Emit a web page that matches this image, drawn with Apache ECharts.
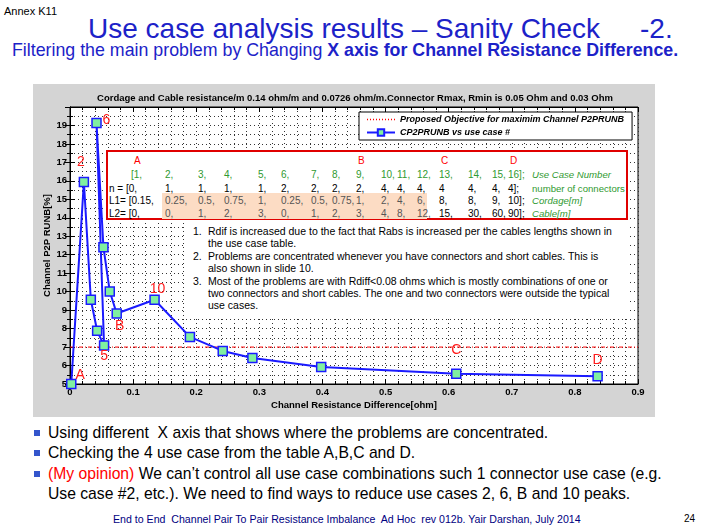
<!DOCTYPE html>
<html>
<head>
<meta charset="utf-8">
<script src="https://cdn.jsdelivr.net/npm/echarts@6/dist/echarts.min.js"></script>
<style>
  body { margin: 0; width: 710px; height: 531px; background: #fff; position: relative; overflow: hidden;
         font-family: "Liberation Sans", Arial, sans-serif; }
  .t { position: absolute; white-space: nowrap; }
  #panel { position: absolute; left: 33px; top: 84px; width: 622px; height: 333px; background: #d4d4d4; z-index: 0; }
  #chart { position: absolute; left: 0; top: 0; width: 710px; height: 531px; z-index: 1; }
  #table { position: absolute; left: 106px; top: 150px; width: 522px; height: 70px; box-sizing: border-box;
           border: 2px solid #e00000; background: #fff; z-index: 2; }
  #peach { position: absolute; left: 54px; top: 41px; width: 265px; height: 26px; background: #fcdcc4; }
  #notes { position: absolute; left: 186px; top: 223px; width: 442px; height: 96px; background: #fff; z-index: 2; }
  .cell { position: absolute; white-space: nowrap; font-size: 10px; line-height: 10px; }
  .note { position: absolute; white-space: nowrap; font-size: 10.5px; line-height: 11px; color: #000; }
  .bul { position: absolute; left: 34px; width: 6px; height: 6px; background: #3355cc; }
  .btxt { position: absolute; left: 48px; white-space: nowrap; font-size: 15.7px; line-height: 16px; }
</style>
</head>
<body>
<div id="panel"></div>
<div id="chart"></div>
<div id="table"><div id="peach"></div></div>
<div id="notes"></div>

<div class="t" style="left:4px;top:5px;font-size:11px;">Annex K11</div>
<div class="t" style="left:88px;top:13px;font-size:28px;color:#1c22c8;">Use case analysis results – Sanity Check</div>
<div class="t" style="left:640px;top:13px;font-size:28px;color:#1c22c8;">-2.</div>
<div class="t" style="left:12px;top:40px;font-size:17.8px;color:#1c22c8;">Filtering the main problem by Changing <b>X axis for Channel Resistance Difference.</b></div>

<div class="bul" style="top:430px;"></div>
<div class="btxt" style="top:425px;">Using different&nbsp; X axis that shows where the problems are concentrated.</div>
<div class="bul" style="top:450px;"></div>
<div class="btxt" style="top:445px;">Checking the 4 use case from the table A,B,C and D.</div>
<div class="bul" style="top:471px;"></div>
<div class="btxt" style="top:466px;"><span style="color:#ff0000;">(My opinion)</span> We can’t control all use case combinations such 1 connector use case (e.g.</div>
<div class="btxt" style="top:486px;">Use case #2, etc.). We need to find ways to reduce use cases 2, 6, B and 10 peaks.</div>

<div class="t" style="left:113px;top:513px;font-size:10.6px;color:#00007f;">End to End&nbsp; Channel Pair To Pair Resistance Imbalance&nbsp; Ad Hoc&nbsp; rev 012b. Yair Darshan, July 2014</div>
<div class="t" style="left:684px;top:513px;font-size:10px;">24</div>

<script>
// channel resistance difference [ohm] per use case 1..16
const caseX = [0.002, 0.022, 0.033, 0.043, 0.054, 0.042, 0.053, 0.063, 0.074, 0.134, 0.19, 0.242, 0.289, 0.398, 0.612, 0.836];
// channel P2P RUNB [%]
const caseY = [5.0, 15.94, 9.56, 7.88, 7.08, 19.13, 12.4, 10.01, 8.82, 9.56, 7.55, 6.79, 6.41, 5.92, 5.56, 5.42];
const caseTags = ['A', '2', '', '', '5', '6', '', '', 'B', '10', '', '', '', '', 'C', 'D'];
const objectiveY = 7;
const xMin = 0, xMax = 0.9, yMin = 5, yMax = 20;

// use case table
const tableLetters = ['A', '', '', '', '', '', '', '', 'B', '', '', '', 'C', '', '', 'D'];
const useCaseNum = [1, 2, 3, 4, 5, 6, 7, 8, 9, 10, 11, 12, 13, 14, 15, 16];
const nConn = [0, 1, 1, 1, 1, 2, 2, 2, 2, 4, 4, 4, 4, 4, 4, 4];
const cordageL1 = [0.15, 0.25, 0.5, 0.75, 1, 0.25, 0.5, 0.75, 1, 2, 4, 6, 8, 8, 9, 10];
const cableL2 = [0, 0, 1, 2, 3, 0, 1, 2, 3, 4, 8, 12, 15, 30, 60, 90];
const rowNames = ['Use Case Number', 'number of connectors', 'Cordage[m]', 'Cable[m]'];

const notes = [
  ['1.', 'Rdif is increased due to the fact that Rabs is increased per the cables lengths shown in'],
  ['', 'the use case table.'],
  ['2.', 'Problems  are concentrated whenever you have connectors and short cables. This is'],
  ['', 'also shown in slide 10.'],
  ['3.', 'Most of the problems are with Rdiff<0.08 ohms which is mostly combinations of one or'],
  ['', 'two connectors and short cables. The one and two connectors were outside the typical'],
  ['', 'use cases.']
];

// layout of table columns (page px, relative to table box)
const colLeft = [0, 57, 90, 116, 150, 173, 203, 224, 248, 273, 289, 309, 331, 360, 384, 400];
const rowTop = [4, 18, 32, 44, 57];

const tbl = document.getElementById('table');
function cell(txt, left, top, style) {
  const d = document.createElement('div');
  d.className = 'cell';
  d.textContent = txt;
  d.style.left = left + 'px';
  d.style.top = top + 'px';
  if (style) Object.assign(d.style, style);
  tbl.appendChild(d);
}
const green = '#2f9a2f';
tableLetters.forEach((s, i) => {
  if (s) cell(s, (i === 0 ? 24 : colLeft[i]) + 2, rowTop[0], { color: '#ff0000' });
});
useCaseNum.forEach((v, i) => {
  const last = i === useCaseNum.length - 1;
  cell((i === 0 ? '[' : '') + v + (last ? '];' : ','), i === 0 ? 23 : colLeft[i], rowTop[1], { color: green });
});
nConn.forEach((v, i) => {
  const last = i === nConn.length - 1;
  cell((i === 0 ? 'n =  [' : '') + v + (last ? '];' : (i === 12 ? '' : ',')), i === 0 ? 1 : colLeft[i], rowTop[2]);
});
cordageL1.forEach((v, i) => {
  const last = i === cordageL1.length - 1;
  cell((i === 0 ? 'L1= [' : '') + v + (last ? '];' : ','), i === 0 ? 1 : colLeft[i], rowTop[3],
       (i > 0 && i < 12) ? { color: '#555' } : null);
});
cableL2.forEach((v, i) => {
  const last = i === cableL2.length - 1;
  cell((i === 0 ? 'L2= [' : '') + v + (last ? '];' : ','), i === 0 ? 1 : colLeft[i], rowTop[4],
       (i > 0 && i < 12) ? { color: '#555' } : null);
});
rowNames.forEach((s, i) => {
  cell(s, 424, rowTop[i + 1], { color: green, fontStyle: i === 1 ? 'normal' : 'italic', fontSize: '9.6px' });
});

const nb = document.getElementById('notes');
notes.forEach((ln, i) => {
  const top = 3 + i * 12.4;
  if (ln[0]) {
    const n = document.createElement('div');
    n.className = 'note'; n.textContent = ln[0];
    n.style.left = '7px'; n.style.top = top + 'px';
    nb.appendChild(n);
  }
  const t = document.createElement('div');
  t.className = 'note'; t.textContent = ln[1];
  t.style.left = '22px'; t.style.top = top + 'px';
  nb.appendChild(t);
});

// tag label offsets from point centre
const tagOffset = { A: [9, -9], '2': [-3, -20], '6': [10, -3], '5': [0, 11], B: [3, 13], '10': [3, -11], C: [0, -24], D: [0, -16] };

const chart = echarts.init(document.getElementById('chart'));
const dotted = { color: '#333', type: [1, 3], width: 1 };
const axisFont = { color: '#000', fontWeight: 'bold', fontSize: 9.5, fontFamily: 'Liberation Sans' };
const seriesNames = ['Proposed Objective for maximim Channel P2PRUNB', 'CP2PRUNB vs use case #'];

const curveData = caseX.map((x, i) => {
  const item = { value: [x, caseY[i]] };
  if (caseTags[i]) {
    item.label = { show: true, formatter: caseTags[i], position: 'inside', offset: tagOffset[caseTags[i]] };
  }
  return item;
});

chart.setOption({
  animation: false,
  title: {
    text: 'Cordage and Cable resistance/m 0.14 ohm/m and 0.0726 ohm/m.Connector Rmax, Rmin is 0.05 Ohm and 0.03 Ohm',
    left: 'center', top: 88,
    textStyle: { fontSize: 9.5, fontWeight: 'bold', color: '#000', fontFamily: 'Liberation Sans' }
  },
  grid: { left: 70, right: 72, top: 107, bottom: 147, show: true, backgroundColor: '#fff', borderColor: '#000', borderWidth: 1 },
  legend: {
    orient: 'vertical', left: 359, top: 112,
    itemWidth: 28, itemHeight: 8, itemGap: 4,
    backgroundColor: '#fff', borderColor: '#000', borderWidth: 1, padding: [3, 8, 3, 7],
    textStyle: { fontSize: 9, fontWeight: 'bold', fontStyle: 'italic', color: '#000', fontFamily: 'Liberation Sans' },
    data: [
      { name: seriesNames[0], itemStyle: { opacity: 0 }, lineStyle: { type: [1, 2], width: 1.5, color: '#ff0000' } },
      { name: seriesNames[1] }
    ]
  },
  xAxis: [{
    type: 'value', min: xMin, max: xMax, interval: 0.1,
    name: 'Channel Resistance Difference[ohm]', nameLocation: 'middle', nameGap: 16, nameMoveOverlap: false,
    nameTextStyle: axisFont,
    axisLine: { lineStyle: { color: '#000' } },
    axisTick: { inside: true, length: 5, lineStyle: { color: '#000' } },
    minorTick: { show: true, splitNumber: 5, length: 3, lineStyle: { color: '#000' } },
    splitLine: { show: true, lineStyle: dotted },
    minorSplitLine: { show: true, lineStyle: dotted },
    axisLabel: Object.assign({ margin: 3 }, axisFont)
  }, {
    type: 'value', position: 'top', min: xMin, max: xMax, interval: 0.1,
    axisLine: { lineStyle: { color: '#000' } },
    axisTick: { inside: true, length: 5, lineStyle: { color: '#000' } },
    minorTick: { show: true, splitNumber: 5, length: 3, lineStyle: { color: '#000' } },
    splitLine: { show: false }, axisLabel: { show: false }
  }],
  yAxis: [{
    type: 'value', min: yMin, max: yMax, interval: 1,
    name: 'Channel P2P RUNB[%]', nameLocation: 'middle', nameGap: 18, nameMoveOverlap: false,
    nameTextStyle: axisFont,
    axisLine: { show: true, lineStyle: { color: '#000' } },
    axisTick: { show: true, inside: true, length: 5, lineStyle: { color: '#000' } },
    minorTick: { show: true, splitNumber: 2, length: 3, lineStyle: { color: '#000' } },
    splitLine: { show: true, lineStyle: dotted },
    minorSplitLine: { show: true, lineStyle: dotted },
    axisLabel: Object.assign({ margin: 3, formatter: v => (v === yMax ? '' : v) }, axisFont)
  }, {
    type: 'value', position: 'right', min: yMin, max: yMax, interval: 1,
    axisLine: { show: true, lineStyle: { color: '#000' } },
    axisTick: { show: true, inside: true, length: 5, lineStyle: { color: '#000' } },
    minorTick: { show: true, splitNumber: 2, length: 3, lineStyle: { color: '#000' } },
    splitLine: { show: false }, axisLabel: { show: false }
  }],
  series: [{
    name: seriesNames[0],
    type: 'line', symbol: 'none',
    data: [[xMin, objectiveY], [xMax, objectiveY]],
    lineStyle: { color: '#ff0000', width: 1, type: [4, 2, 1, 2] },
    itemStyle: { color: '#ff0000' },
    z: 3
  }, {
    name: seriesNames[1],
    type: 'line', data: curveData,
    symbol: 'rect', symbolSize: 9, showAllSymbol: true,
    lineStyle: { color: '#1a1aff', width: 2 },
    itemStyle: { color: '#80f0a0', borderColor: '#1a1aff', borderWidth: 1.5 },
    label: { color: '#ff1a1a', fontSize: 14, fontFamily: 'Liberation Sans' },
    z: 4
  }]
});
</script>
</body>
</html>
